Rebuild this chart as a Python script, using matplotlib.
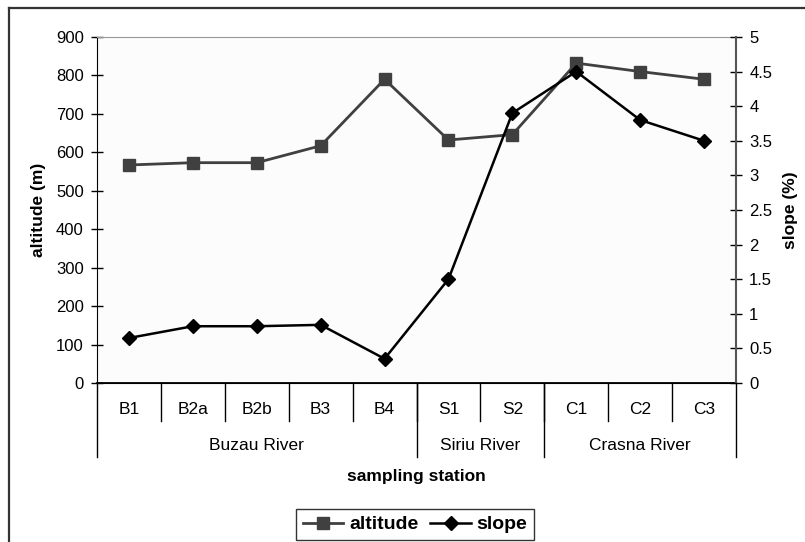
import matplotlib.pyplot as plt
from matplotlib.lines import Line2D

plt.rcParams['font.family'] = ['Liberation Sans', 'DejaVu Sans']

stations = ['B1', 'B2a', 'B2b', 'B3', 'B4', 'S1', 'S2', 'C1', 'C2', 'C3']
rivers = ['Buzau River', 'Siriu River', 'Crasna River']
river_sizes = [5, 2, 3]
altitude = [567, 573, 573, 617, 790, 632, 646, 832, 810, 790]
slope = [0.65, 0.82, 0.82, 0.84, 0.35, 1.5, 3.9, 4.5, 3.8, 3.5]

fig = plt.figure(figsize=(8.05, 5.42), dpi=100)
ax = fig.add_axes([0.1205, 0.2934, 0.7938, 0.6384])
ax2 = ax.twinx()

x = list(range(len(stations)))
alt_line, = ax.plot(x, altitude, color='#404040', lw=2.0, marker='s', ms=8,
                    label='altitude', clip_on=False, zorder=3)
slope_line, = ax2.plot(x, slope, color='black', lw=1.8, marker='D', ms=7.5,
                       label='slope', clip_on=False, zorder=3)

ax.set_xlim(-0.5, len(stations) - 0.5)
ax.set_ylim(0, 900)
ax.set_yticks(range(0, 901, 100))
ax2.set_ylim(0, 5)
ax2.set_yticks([i * 0.5 for i in range(11)])
ax2.set_yticklabels(['%g' % (i * 0.5) for i in range(11)])

for a in (ax, ax2):
    a.tick_params(axis='y', direction='inout', length=9, width=1, labelsize=12, pad=5)
    a.set_xticks([])
ax.spines['top'].set_color('#999999')
ax.spines['top'].set_linewidth(0.8)
ax2.spines['top'].set_visible(False)
ax.spines['right'].set_visible(False)
ax2.spines['left'].set_visible(False)
ax2.spines['right'].set_color('#555555')
ax2.spines['right'].set_linewidth(1.5)
ax.spines['left'].set_color('black')
ax.spines['bottom'].set_linewidth(1.3)
ax.set_facecolor('#fcfcfc')

ax.set_ylabel('altitude (m)', fontsize=12.5, fontweight='bold', labelpad=7)
ax2.set_ylabel('slope (%)', fontsize=12.5, fontweight='bold', labelpad=8)

# two-level category axis: stations, then rivers
trans = ax.get_xaxis_transform()
for i, name in enumerate(stations):
    ax.text(i, -0.078, name, transform=trans, ha='center', va='center', fontsize=12.5)
    if i > 0:
        ax.plot([i - 0.5, i - 0.5], [0, -0.11], transform=trans, color='black',
                lw=1, clip_on=False)

start = 0
edges = [-0.5]
for name, n in zip(rivers, river_sizes):
    mid = start + (n - 1) / 2
    ax.text(mid, -0.182, name, transform=trans, ha='center', va='center', fontsize=12.5)
    start += n
    edges.append(start - 0.5)
for e in edges:
    ax.plot([e, e], [0, -0.214], transform=trans, color='black', lw=1, clip_on=False)

fig.text(416.5 / 805, 1 - 477 / 542, 'sampling station', ha='center', va='center',
         fontsize=12.5, fontweight='bold')

fig.legend(handles=[alt_line, slope_line], loc='center', ncol=2,
           bbox_to_anchor=(415 / 805, 1 - 524.5 / 542),
           prop={'size': 14, 'weight': 'bold'}, frameon=True, fancybox=False,
           edgecolor='black', handlelength=2.1, handletextpad=0.3,
           columnspacing=0.6, borderpad=0.35, borderaxespad=0)
fig.legends[0].get_frame().set_linewidth(1.0)

# outer frame of the chart area
fig.add_artist(Line2D([9 / 805, 9 / 805], [0, 1 - 8 / 542], color='#333333', lw=1.6))
fig.add_artist(Line2D([9 / 805, 1], [1 - 8 / 542, 1 - 8 / 542], color='#333333', lw=1.6))

fig.savefig('out.png', dpi=100)
